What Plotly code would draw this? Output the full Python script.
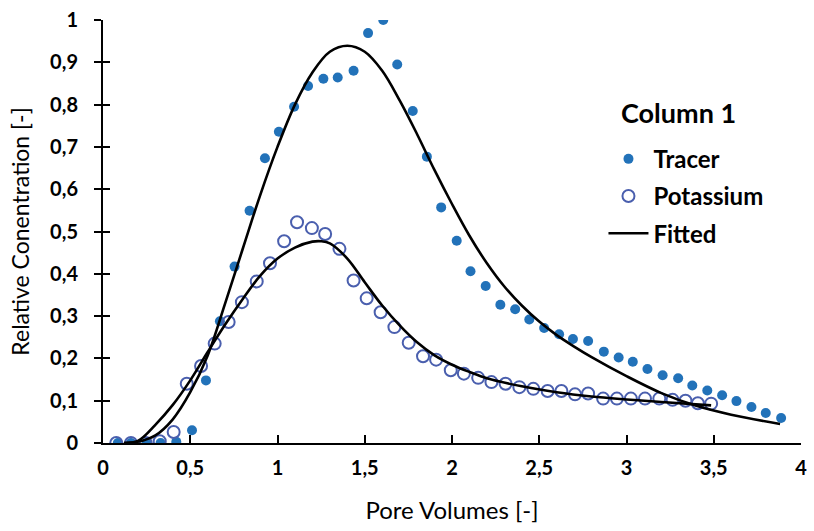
import plotly.graph_objects as go

# Tracer observations
tracer_x = [0.085, 0.16, 0.25, 0.33, 0.42, 0.51, 0.59, 0.67, 0.754, 0.84, 0.928, 1.008,
            1.095, 1.175, 1.263, 1.345, 1.436, 1.519, 1.606, 1.686, 1.775, 1.856, 1.938,
            2.027, 2.106, 2.193, 2.277, 2.362, 2.443, 2.528, 2.614, 2.693, 2.78, 2.87,
            2.955, 3.036, 3.12, 3.207, 3.296, 3.377, 3.463, 3.548, 3.63, 3.716, 3.798, 3.886]
tracer_y = [0.0, 0.0, 0.0, 0.0, 0.003, 0.03, 0.148, 0.288, 0.417, 0.549, 0.673, 0.736,
            0.795, 0.844, 0.861, 0.864, 0.880, 0.969, 1.0, 0.895, 0.785, 0.677, 0.557,
            0.478, 0.406, 0.371, 0.327, 0.316, 0.292, 0.272, 0.257, 0.246, 0.241, 0.216,
            0.202, 0.192, 0.175, 0.160, 0.153, 0.136, 0.124, 0.113, 0.099, 0.085, 0.071, 0.059]

# Potassium observations
potassium_x = [0.076, 0.16, 0.245, 0.325, 0.405, 0.48, 0.562, 0.64, 0.72, 0.796, 0.881, 0.957,
               1.038, 1.112, 1.197, 1.273, 1.355, 1.436, 1.511, 1.591, 1.670, 1.752, 1.834,
               1.909, 1.993, 2.068, 2.15, 2.226, 2.307, 2.386, 2.466, 2.548, 2.627, 2.705,
               2.78, 2.866, 2.945, 3.025, 3.106, 3.188, 3.264, 3.338, 3.409, 3.485]
potassium_y = [0.0, 0.0, 0.0, 0.004, 0.026, 0.14, 0.182, 0.235, 0.286, 0.333, 0.382, 0.425,
               0.477, 0.522, 0.508, 0.494, 0.459, 0.384, 0.342, 0.309, 0.274, 0.237, 0.205,
               0.197, 0.172, 0.164, 0.154, 0.144, 0.140, 0.132, 0.128, 0.123, 0.123, 0.115,
               0.117, 0.105, 0.105, 0.105, 0.105, 0.105, 0.102, 0.100, 0.094, 0.093]

# Fitted curves
fit_tracer_x = [0.12, 0.2, 0.3, 0.4, 0.5, 0.6, 0.7, 0.8, 0.9, 1.0, 1.1, 1.2, 1.3, 1.4,
                1.5, 1.6, 1.7, 1.8, 1.9, 2.0, 2.1, 2.2, 2.3, 2.4, 2.5, 2.6, 2.7, 2.8,
                3.0, 3.2, 3.4, 3.6, 3.88]
fit_tracer_y = [0.0, 0.003, 0.018, 0.056, 0.12, 0.207, 0.33, 0.458, 0.585, 0.70, 0.80, 0.876,
                0.925, 0.939, 0.925, 0.88, 0.81, 0.73, 0.645, 0.565, 0.49, 0.425, 0.37,
                0.325, 0.287, 0.255, 0.228, 0.203, 0.158, 0.118, 0.088, 0.067, 0.045]

fit_potassium_x = [0.12, 0.2, 0.3, 0.4, 0.5, 0.6, 0.7, 0.8, 0.9, 1.0, 1.1, 1.2, 1.25, 1.3,
                   1.4, 1.5, 1.6, 1.7, 1.8, 1.9, 2.0, 2.1, 2.2, 2.4, 2.6, 2.8, 3.0, 3.2, 3.485]
fit_potassium_y = [0.0, 0.005, 0.043, 0.09, 0.148, 0.215, 0.28, 0.34, 0.395, 0.436, 0.462,
                   0.476, 0.477, 0.472, 0.436, 0.38, 0.325, 0.278, 0.238, 0.207, 0.185,
                   0.168, 0.153, 0.134, 0.12, 0.11, 0.103, 0.097, 0.089]

x_ticks = [0, 0.5, 1, 1.5, 2, 2.5, 3, 3.5, 4]
y_ticks = [0, 0.1, 0.2, 0.3, 0.4, 0.5, 0.6, 0.7, 0.8, 0.9, 1]

TRACER_COLOR = "#2272B9"
POTASSIUM_COLOR = "#4A5FAE"
FONT = "Lato"

fig = go.Figure()
fig.add_trace(go.Scatter(
    x=tracer_x, y=tracer_y, mode="markers", name="Tracer", legendgroup="a",
    marker=dict(symbol="circle", size=10, color=TRACER_COLOR)))
fig.add_trace(go.Scatter(
    x=potassium_x, y=potassium_y, mode="markers", name="Potassium", legendgroup="b",
    marker=dict(symbol="circle-open", size=12, color=POTASSIUM_COLOR, line=dict(width=2))))
fig.add_trace(go.Scatter(
    x=fit_tracer_x, y=fit_tracer_y, mode="lines", name="Fitted", legendgroup="c",
    line=dict(color="black", width=2.6, shape="spline", smoothing=1.0)))
fig.add_trace(go.Scatter(
    x=fit_potassium_x, y=fit_potassium_y, mode="lines", name="Fitted", legendgroup="c",
    showlegend=False,
    line=dict(color="black", width=2.6, shape="spline", smoothing=1.0)))
# helper trace on second y axis for inner half of crossing ticks
fig.add_trace(go.Scatter(x=[None], y=[None], yaxis="y2", showlegend=False, hoverinfo="skip"))

fig.update_layout(
    width=814, height=531,
    margin=dict(l=103, r=7, t=19, b=88),
    paper_bgcolor="white", plot_bgcolor="white",
    separators=", ",
    font=dict(family=FONT, color="black"),
    xaxis=dict(
        range=[0, 4], tickvals=x_ticks, tickformat=".1~f",
        showline=True, linecolor="black", linewidth=2,
        ticks="inside", ticklen=8, tickwidth=2, tickcolor="black",
        showgrid=False, zeroline=False,
        tickfont=dict(family=FONT, size=20, weight="bold", color="black"),
        ticklabelstandoff=6, ticklabeloverflow="allow",
        title=dict(text="Pore Volumes [-]", font=dict(family=FONT, size=24, color="black"),
                   standoff=24),
    ),
    yaxis=dict(
        range=[0, 1], tickvals=y_ticks, tickformat=".1~f",
        showline=True, linecolor="black", linewidth=2,
        ticks="outside", ticklen=7, tickwidth=2, tickcolor="black",
        showgrid=False, zeroline=False,
        tickfont=dict(family=FONT, size=20, weight="bold", color="black"),
        ticklabelstandoff=12,
        title=dict(text="Relative Conentration [-]", font=dict(family=FONT, size=23, color="black"),
                   standoff=14),
    ),
    yaxis2=dict(
        range=[0, 1], tickvals=y_ticks, overlaying="y", side="left",
        showline=False, ticks="inside", ticklen=7, tickwidth=2, tickcolor="black",
        showticklabels=False, showgrid=False, zeroline=False,
    ),
    legend=dict(
        x=0.717, y=0.724, xanchor="left", yanchor="top",
        bgcolor="rgba(0,0,0,0)", tracegroupgap=3, itemwidth=40,
        traceorder="grouped",
        font=dict(family=FONT, size=24, weight="bold", color="black"),
    ),
    annotations=[dict(
        text="Column 1", xref="paper", yref="paper",
        x=(623 - 103) / 704, y=(443 - 112) / 424, xanchor="left", yanchor="middle",
        showarrow=False,
        font=dict(family=FONT, size=27, weight="bold", color="black"),
    )],
    showlegend=True,
)

fig.write_html("out.html")
